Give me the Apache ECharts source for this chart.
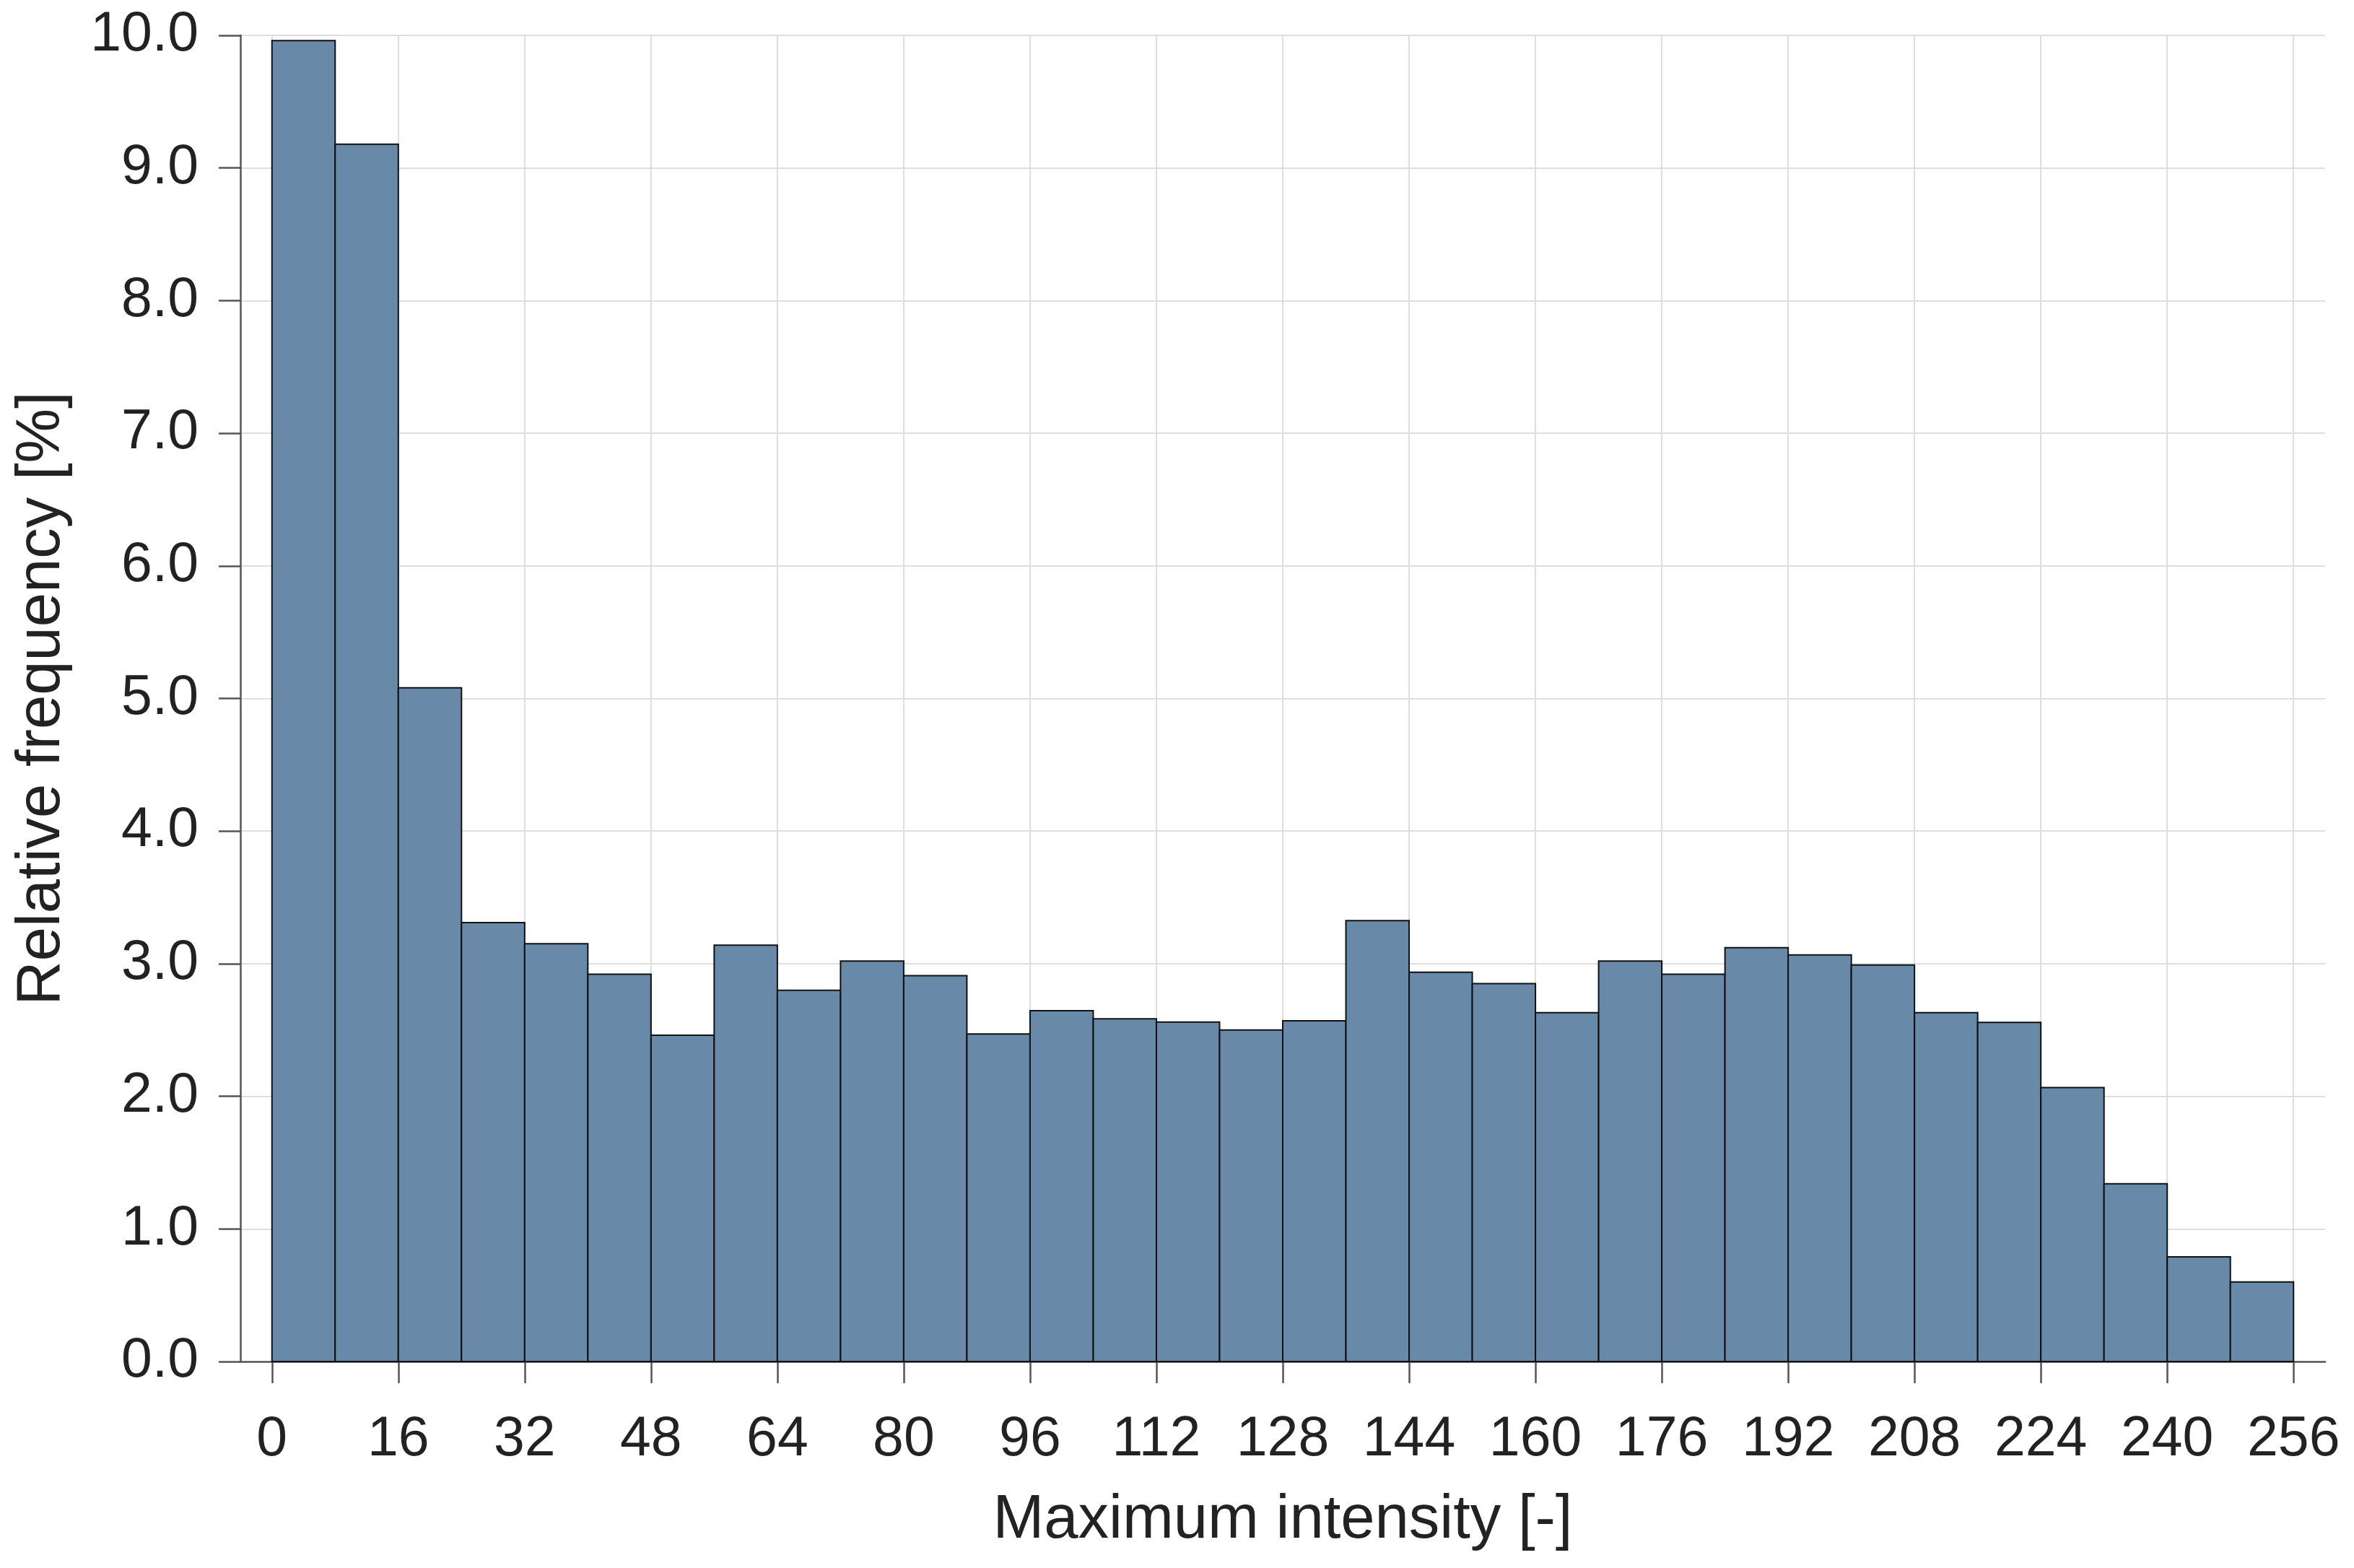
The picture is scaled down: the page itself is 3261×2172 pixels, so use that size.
<!DOCTYPE html>
<html>
<head>
<meta charset="utf-8">
<script src="https://cdn.jsdelivr.net/npm/echarts@6/dist/echarts.min.js"></script>
<style>
  html, body { margin: 0; padding: 0; background: #ffffff; }
  #chart { width: 3261px; height: 2172px; }
</style>
</head>
<body>
<div id="chart"></div>
<script>
// Histogram bins (left edges), bin width 8
var binStarts = [0, 8, 16, 24, 32, 40, 48, 56, 64, 72, 80, 88, 96, 104, 112, 120,
                 128, 136, 144, 152, 160, 168, 176, 184, 192, 200, 208, 216, 224, 232, 240, 248];
var binWidth = 8;
// Relative frequency [%]
var frequencies = [9.96, 9.18, 5.08, 3.31, 3.15, 2.92, 2.46, 3.14, 2.80, 3.02, 2.91, 2.47,
                   2.645, 2.585, 2.56, 2.50, 2.57, 3.325, 2.935, 2.85, 2.63, 3.02, 2.92, 3.12,
                   3.066, 2.99, 2.63, 2.557, 2.066, 1.34, 0.79, 0.60];
var xTicks = [0, 16, 32, 48, 64, 80, 96, 112, 128, 144, 160, 176, 192, 208, 224, 240, 256];
var yTicks = [0, 1, 2, 3, 4, 5, 6, 7, 8, 9, 10];
var xTitle = 'Maximum intensity [-]';
var yTitle = 'Relative frequency [%]';

var FONT = '"Liberation Sans", Arial, Helvetica, sans-serif';
var TEXT = '#222222';
var AXIS = '#555555';
var GRIDC = '#dedede';

var seriesData = binStarts.map(function (s, i) { return [s, s + binWidth, frequencies[i]]; });

var gLeft = 333, gRight = 40, gTop = 49, gBottom = 286;
var plotW = 3261 - gLeft - gRight;
var xPad = 4; // axis extends 4 units beyond data range on each side
var pxPerUnit = plotW / (xTicks[xTicks.length - 1] - xTicks[0] + 2 * xPad);
var innerLeft = gLeft + xPad * pxPerUnit;
var innerRight = gRight + xPad * pxPerUnit;

var chart = echarts.init(document.getElementById('chart'), null, { renderer: 'canvas' });
chart.setOption({
  backgroundColor: '#ffffff',
  animation: false,
  grid: [
    { left: gLeft, right: gRight, top: gTop, bottom: gBottom, containLabel: false },
    { left: innerLeft, right: innerRight, top: gTop, bottom: gBottom, containLabel: false }
  ],
  xAxis: [
    {
      gridIndex: 0, type: 'value', min: xTicks[0] - xPad, max: xTicks[xTicks.length - 1] + xPad,
      axisLine: { show: true, onZero: false, lineStyle: { color: AXIS, width: 2.5 } },
      axisTick: { show: false }, axisLabel: { show: false }, splitLine: { show: false },
      name: xTitle, nameLocation: 'middle', nameGap: 178,
      nameTextStyle: { fontFamily: FONT, fontSize: 85, color: TEXT }
    },
    {
      gridIndex: 1, type: 'value', min: xTicks[0], max: xTicks[xTicks.length - 1], interval: 16,
      axisLine: { show: false },
      axisTick: { show: true, inside: false, length: 30, lineStyle: { color: AXIS, width: 2.5 } },
      axisLabel: { show: true, margin: 70, fontFamily: FONT, fontSize: 77, color: TEXT,
                   formatter: function (v) { return String(v); } },
      splitLine: { show: true, lineStyle: { color: GRIDC, width: 2 } }
    }
  ],
  yAxis: [
    {
      gridIndex: 0, type: 'value', min: yTicks[0], max: yTicks[yTicks.length - 1], interval: 1,
      axisLine: { show: true, onZero: false, lineStyle: { color: AXIS, width: 2.5 } },
      axisTick: { show: true, inside: false, length: 30, lineStyle: { color: AXIS, width: 2.5 } },
      axisLabel: { show: true, margin: 58, fontFamily: FONT, fontSize: 77, color: TEXT,
                   formatter: function (v) { return v.toFixed(1); } },
      splitLine: { show: true, lineStyle: { color: GRIDC, width: 2 } },
      name: yTitle, nameLocation: 'middle', nameGap: 232,
      nameTextStyle: { fontFamily: FONT, fontSize: 85, color: TEXT }
    },
    {
      gridIndex: 1, type: 'value', min: yTicks[0], max: yTicks[yTicks.length - 1],
      show: false, splitLine: { show: false }
    }
  ],
  series: [{
    type: 'custom',
    xAxisIndex: 1, yAxisIndex: 1,
    data: seriesData,
    encode: { x: [0, 1], y: 2 },
    renderItem: function (params, api) {
      var p0 = api.coord([api.value(0), 0]);
      var p1 = api.coord([api.value(1), api.value(2)]);
      return {
        type: 'rect',
        shape: { x: p0[0], y: p1[1], width: p1[0] - p0[0], height: p0[1] - p1[1] },
        style: { fill: '#6889a8', stroke: '#111111', lineWidth: 2 }
      };
    }
  }]
});
</script>
</body>
</html>
